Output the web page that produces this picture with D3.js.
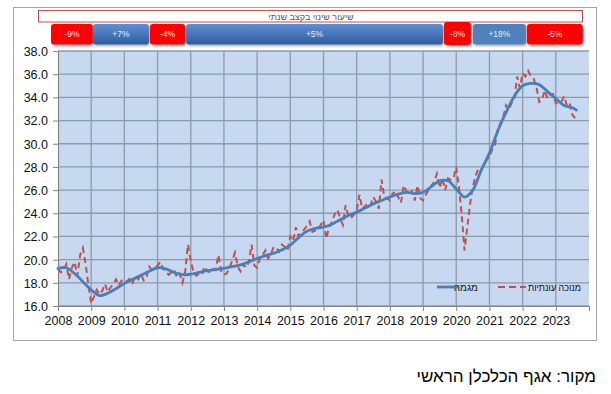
<!DOCTYPE html>
<html>
<head>
<meta charset="utf-8">
<script src="https://cdn.jsdelivr.net/npm/d3@7"></script>
<style>
  body { margin: 0; background: #fff; }
  svg { display: block; font-family: "Liberation Sans", Arial, sans-serif; }
</style>
</head>
<body>
<svg id="chart" width="611" height="394"></svg>
<script>
// monthly seasonally adjusted series, Jan 2008 .. Aug 2023
const startYear = 2008;
const seasonalAdj = [
  19.2, 18.9, 19.1, 19.6, 18.3, 19.3, 19.8, 18.6, 20.4, 21.0, 19.6, 17.8, // 2008
  16.2, 16.8, 17.4, 17.0, 17.3, 17.9, 17.2, 17.6, 17.9, 18.3, 17.8, 18.2, // 2009
  18.3, 18.1, 18.4, 18.0, 18.6, 18.3, 18.7, 18.2, 18.5, 19.4, 19.1, 19.3, // 2010
  19.5, 19.8, 19.2, 19.0, 18.7, 18.9, 19.1, 18.5, 18.8, 18.0, 19.0, 21.3, // 2011
  19.9, 18.9, 18.6, 18.8, 18.7, 19.4, 19.0, 18.9, 19.2, 19.1, 20.4, 19.0, // 2012
  18.7, 18.8, 19.3, 19.9, 20.6, 19.4, 19.0, 19.6, 19.3, 19.8, 21.3, 19.5, // 2013
  19.3, 20.1, 20.4, 20.8, 20.1, 20.5, 21.1, 21.0, 20.7, 21.3, 21.1, 20.8, // 2014
  22.0, 21.6, 22.8, 22.0, 22.3, 22.6, 22.9, 23.3, 22.4, 22.5, 22.6, 23.0, // 2015
  23.4, 21.8, 22.8, 23.2, 23.9, 24.3, 23.6, 23.0, 24.7, 23.7, 23.6, 23.9, // 2016
  24.2, 25.6, 24.4, 24.6, 24.9, 24.7, 25.4, 25.0, 24.4, 26.9, 25.4, 25.3, // 2017
  25.1, 25.7, 25.9, 25.4, 24.9, 26.4, 25.9, 25.6, 25.9, 25.1, 26.4, 25.3, // 2018
  25.1, 25.6, 26.0, 26.4, 26.7, 27.4, 26.2, 27.0, 26.0, 27.0, 26.9, 27.0, // 2019
  28.0, 26.2, 23.8, 20.8, 22.8, 24.8, 26.3, 27.2, 27.9, 27.7, 28.2, 28.6, // 2020
  28.9, 29.5, 29.9, 31.2, 31.8, 32.3, 33.3, 32.9, 33.5, 33.8, 35.8, 34.8, // 2021
  36.1, 35.8, 36.3, 35.8, 35.6, 34.9, 33.6, 33.8, 34.6, 33.9, 34.3, 34.3, // 2022
  33.5, 33.5, 33.6, 34.1, 33.3, 33.5, 32.5, 32.2                          // 2023
];

// trend, read quarterly
const trendTimes = [
  2008.00, 2008.25, 2008.50, 2008.75, 2009.00, 2009.25, 2009.50, 2009.75,
  2010.00, 2010.25, 2010.50, 2010.75, 2011.00, 2011.25, 2011.50, 2011.75,
  2012.00, 2012.25, 2012.50, 2012.75, 2013.00, 2013.25, 2013.50, 2013.75,
  2014.00, 2014.25, 2014.50, 2014.75, 2015.00, 2015.25, 2015.50, 2015.75,
  2016.00, 2016.25, 2016.50, 2016.75, 2017.00, 2017.25, 2017.50, 2017.75,
  2018.00, 2018.25, 2018.50, 2018.75, 2019.00, 2019.25, 2019.50, 2019.75,
  2020.00, 2020.25, 2020.50, 2020.75, 2021.00, 2021.25, 2021.50, 2021.75,
  2022.00, 2022.25, 2022.50, 2022.75, 2023.00, 2023.25, 2023.50, 2023.62
];
const trendValues = [
  19.25, 19.3, 18.8, 18.1, 17.4, 16.9, 17.1, 17.5,
  17.95, 18.3, 18.65, 19.0, 19.3, 19.2, 18.9, 18.7,
  18.75, 18.9, 19.05, 19.15, 19.25, 19.4, 19.55, 19.8,
  20.1, 20.35, 20.55, 20.85, 21.25, 21.9, 22.45, 22.7,
  22.8, 23.05, 23.45, 23.8, 24.1, 24.45, 24.8, 25.1,
  25.4, 25.65, 25.8, 25.7, 25.8, 26.3, 26.8, 26.8,
  26.1, 25.4, 26.0, 27.7, 29.2, 31.1, 32.7, 34.1,
  35.0, 35.2, 35.1, 34.5, 33.9, 33.3, 33.1, 32.9
];

// annual rate-of-change banner
const periodStart = [2007.79, 2009.05, 2010.77, 2011.86, 2019.63, 2020.50, 2022.13];
const periodEnd   = [2009.05, 2010.74, 2011.83, 2019.60, 2020.44, 2022.10, 2023.81];
const periodLabel = ["-9%", "+7%", "-4%", "+5%", "-8%", "+18%", "-5%"];
const periodKind  = ["down", "up", "down", "up", "down", "upLight", "down"];

const xTicks = d3.range(2008, 2024);
const yTicks = d3.range(16, 38.01, 2);

const bannerTitle = "שיעור שינוי בקצב שנתי";
const legendSeasonal = "מנוכה עונתיות";
const legendTrend = "מגמה";
const sourceText = "מקור: אגף הכלכלן הראשי";

const svg = d3.select("#chart");

const x = d3.scaleLinear().domain([2008, 2024]).range([58, 589]);
const y = d3.scaleLinear().domain([16, 38]).range([306, 51]);

// outer chart frame
svg.append("rect")
   .attr("x", 13.5).attr("y", 7.5)
   .attr("width", 583).attr("height", 333)
   .attr("fill", "#fff")
   .attr("stroke", "#a6a6a6");

const defs = svg.append("defs");
const grad = defs.append("linearGradient")
   .attr("id", "blueGrad").attr("x1", 0).attr("y1", 0).attr("x2", 0).attr("y2", 1);
grad.append("stop").attr("offset", "0%").attr("stop-color", "#5f8fd3");
grad.append("stop").attr("offset", "100%").attr("stop-color", "#2f5d9f");
const shadow = defs.append("filter").attr("id", "shadow")
   .attr("x", "-10%").attr("y", "-10%").attr("width", "130%").attr("height", "140%");
shadow.append("feDropShadow")
   .attr("dx", 1).attr("dy", 1.5).attr("stdDeviation", 1)
   .attr("flood-color", "#000").attr("flood-opacity", 0.35);

// plot background
svg.append("rect")
   .attr("x", x(2008)).attr("y", y(38))
   .attr("width", x(2024) - x(2008)).attr("height", y(16) - y(38))
   .attr("fill", "#c6d9f1");

// grid
const grid = svg.append("g").attr("stroke", "#8d9aa8").attr("stroke-width", 1.3);
grid.selectAll(".h").data(yTicks).join("line")
    .attr("x1", x(2008)).attr("x2", x(2024))
    .attr("y1", d => y(d)).attr("y2", d => y(d));
grid.selectAll(".v").data(xTicks.slice(1)).join("line")
    .attr("y1", y(38)).attr("y2", y(16))
    .attr("x1", d => x(d)).attr("x2", d => x(d));

// axes
const yAxis = svg.append("g")
   .attr("transform", `translate(${x(2008)},0)`)
   .call(d3.axisLeft(y).tickValues(yTicks).tickFormat(d3.format(".1f")).tickSize(5).tickSizeOuter(0));
const xAxis = svg.append("g")
   .attr("transform", `translate(0,${y(16)})`)
   .call(d3.axisBottom(x).tickValues(xTicks.concat([2024])).tickFormat(d => d === 2024 ? "" : d).tickSize(5).tickSizeOuter(0));
[yAxis, xAxis].forEach(a => {
  a.select(".domain").attr("stroke", "#868686").attr("stroke-width", 1.2);
  a.selectAll(".tick line").attr("stroke", "#868686");
  a.selectAll("text").attr("fill", "#111").attr("font-size", 12.5)
   .attr("font-family", "'Liberation Sans', Arial, sans-serif");
});
yAxis.selectAll("text").attr("x", -10).attr("dy", "0.35em");
xAxis.selectAll("text").attr("y", 10);

// series
const seasonalPts = seasonalAdj.map((v, i) => [startYear + i / 12, v]);
svg.append("path")
   .datum(seasonalPts)
   .attr("fill", "none")
   .attr("stroke", "#c0504d")
   .attr("stroke-width", 2)
   .attr("stroke-dasharray", "6,4")
   .attr("d", d3.line().x(d => x(d[0])).y(d => y(d[1])));

const trendPts = trendTimes.map((t, i) => [t, trendValues[i]]);
svg.append("path")
   .datum(trendPts)
   .attr("fill", "none")
   .attr("stroke", "#4a7ebb")
   .attr("stroke-width", 2.8)
   .attr("stroke-linecap", "round")
   .attr("d", d3.line().curve(d3.curveCatmullRom).x(d => x(d[0])).y(d => y(d[1])));

// legend
const lg = svg.append("g").attr("font-size", 10).attr("fill", "#111");
lg.append("text").attr("x", 581).attr("y", 291).attr("text-anchor", "end")
  .attr("textLength", 53).attr("lengthAdjust", "spacingAndGlyphs").text(legendSeasonal);
lg.append("line").attr("x1", 498).attr("x2", 526).attr("y1", 287).attr("y2", 287)
  .attr("stroke", "#c0504d").attr("stroke-width", 2).attr("stroke-dasharray", "7,4");
lg.append("text").attr("x", 478).attr("y", 291).attr("text-anchor", "end").text(legendTrend);
lg.append("line").attr("x1", 437).attr("x2", 458).attr("y1", 287).attr("y2", 287)
  .attr("stroke", "#4a7ebb").attr("stroke-width", 2.8);

// banner
svg.append("rect")
   .attr("x", 38.5).attr("y", 10.5).attr("width", 544).attr("height", 11.5)
   .attr("fill", "#fff").attr("stroke", "#c0504d").attr("stroke-width", 1);
svg.append("text")
   .attr("x", 311).attr("y", 19.5).attr("text-anchor", "middle")
   .attr("font-size", 9).attr("fill", "#595959").text(bannerTitle);

const fillFor = k => k === "down" ? "#ff0000" : k === "up" ? "url(#blueGrad)" : "#4f81bd";
const boxes = svg.append("g").selectAll("g")
   .data(periodLabel.map((l, i) => ({ l, s: periodStart[i], e: periodEnd[i], k: periodKind[i] })))
   .join("g");
boxes.append("rect")
   .attr("x", d => x(d.s)).attr("width", d => x(d.e) - x(d.s))
   .attr("y", d => d.l === "-8%" ? 22 : 24)
   .attr("height", d => d.l === "-8%" ? 23 : 20.5)
   .attr("rx", 3)
   .attr("fill", d => fillFor(d.k))
   .attr("filter", "url(#shadow)");
boxes.append("text")
   .attr("x", d => (x(d.s) + x(d.e)) / 2).attr("y", 37)
   .attr("text-anchor", "middle").attr("font-size", 8.5)
   .attr("fill", d => d.k === "down" ? "#ffe8e8" : "#e6ecf5")
   .text(d => d.l);

// source
svg.append("text")
   .attr("x", 596).attr("y", 382).attr("text-anchor", "end")
   .attr("font-size", 17).attr("fill", "#000").text(sourceText);
</script>
</body>
</html>
